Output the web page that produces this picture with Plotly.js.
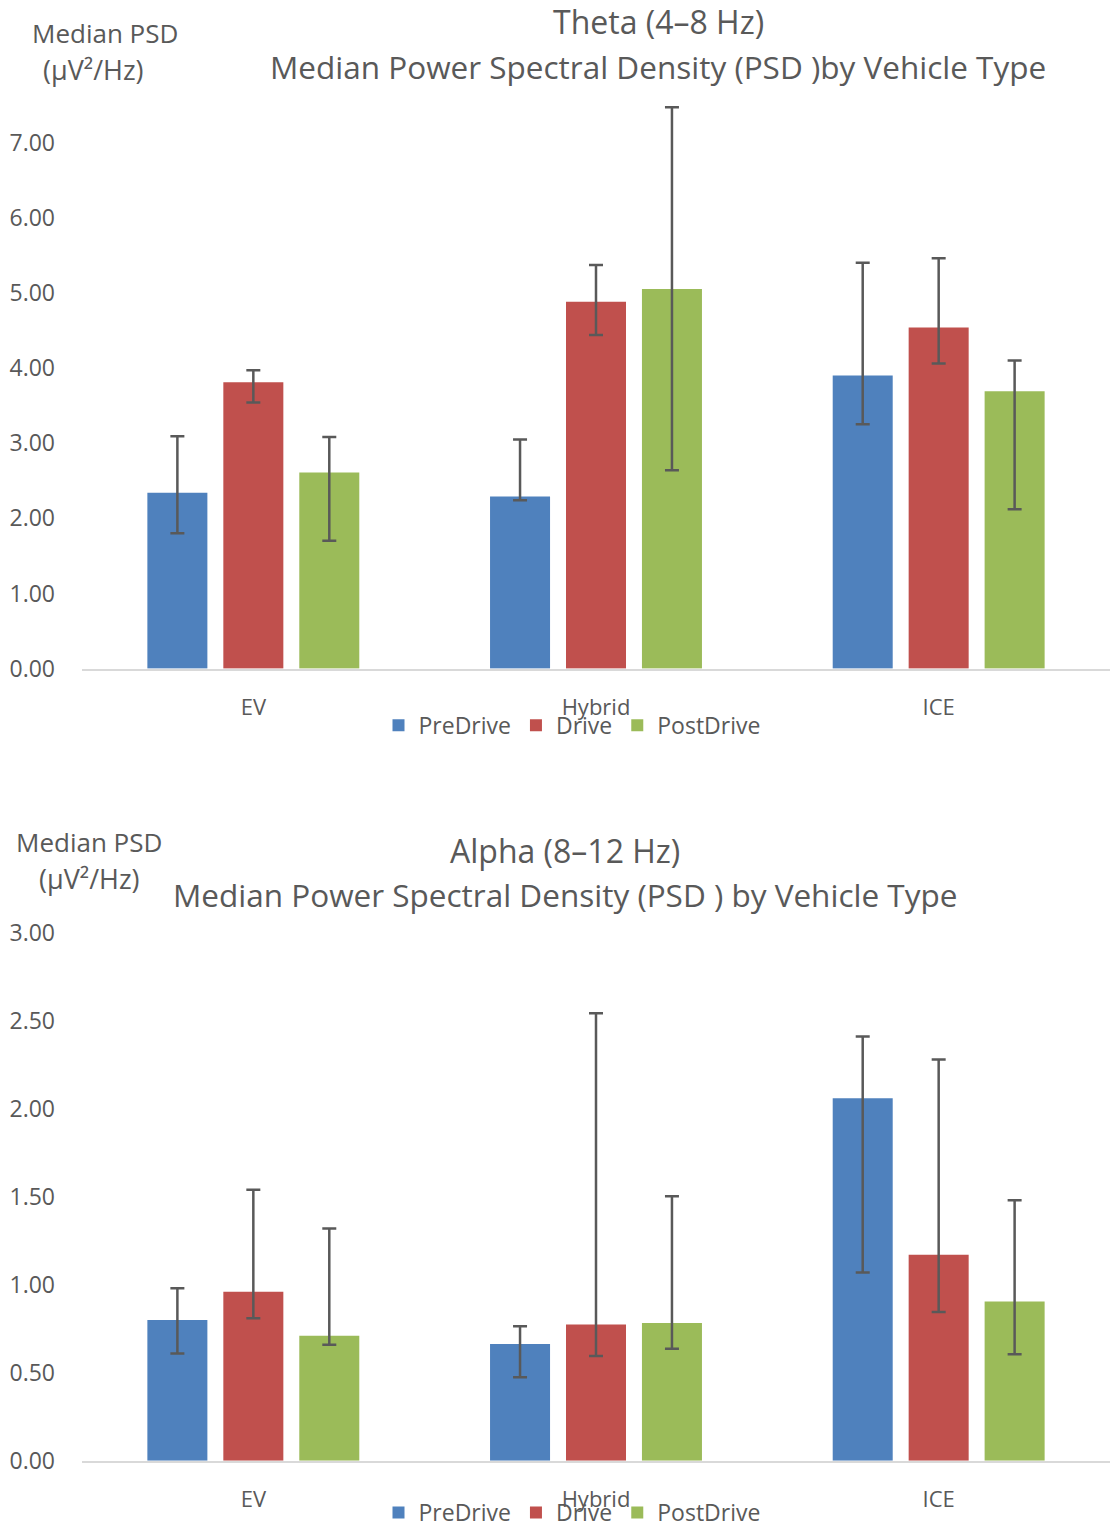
<!DOCTYPE html>
<html>
<head>
<meta charset="utf-8">
<script src="https://cdn.plot.ly/plotly-3.0.1.min.js"></script>
<style>
html,body{margin:0;padding:0;background:#fff;}
#chart{width:1120px;height:1534px;}
</style>
</head>
<body>
<div id="chart"></div>
<script>
// ---- Data ----
const categories = ["EV", "Hybrid", "ICE"];
const seriesNames = ["PreDrive", "Drive", "PostDrive"];

// Theta (4–8 Hz)
const thetaPre      = [2.34, 2.29, 3.90];
const thetaPreHi    = [3.09, 3.05, 5.40];
const thetaPreLo    = [1.80, 2.24, 3.25];
const thetaDrive    = [3.81, 4.88, 4.54];
const thetaDriveHi  = [3.97, 5.37, 5.46];
const thetaDriveLo  = [3.54, 4.44, 4.06];
const thetaPost     = [2.61, 5.05, 3.69];
const thetaPostHi   = [3.08, 7.47, 4.10];
const thetaPostLo   = [1.70, 2.64, 2.12];

// Alpha (8–12 Hz)
const alphaPre      = [0.80, 0.664, 2.06];
const alphaPreHi    = [0.98, 0.764, 2.41];
const alphaPreLo    = [0.61, 0.475, 1.07];
const alphaDrive    = [0.96, 0.774, 1.17];
const alphaDriveHi  = [1.54, 2.543, 2.28];
const alphaDriveLo  = [0.81, 0.596, 0.845];
const alphaPost     = [0.71, 0.783, 0.905];
const alphaPostHi   = [1.32, 1.503, 1.48];
const alphaPostLo   = [0.66, 0.636, 0.605];

const thetaTicks = [0, 1, 2, 3, 4, 5, 6, 7];
const alphaTicks = [0, 0.5, 1, 1.5, 2, 2.5, 3];

// ---- Styles ----
const colors = ["#4F81BD", "#C0504D", "#9BBB59"];
const FONT = "'Open Sans', sans-serif";
const TXT = "#595959";

function mkTrace(name, vals, hi, lo, idx, xa, ya, leg, show) {
  return {
    type: "bar", name: name, x: categories, y: vals,
    xaxis: xa, yaxis: ya, legend: leg, showlegend: show,
    marker: {color: colors[idx], line: {width: 0}},
    error_y: {
      type: "data", symmetric: false,
      array: vals.map((v, i) => hi[i] - v),
      arrayminus: vals.map((v, i) => v - lo[i]),
      color: "#595959", thickness: 2.5, width: 7
    },
    hoverinfo: "x+y+name"
  };
}

const data = [
  mkTrace(seriesNames[0], thetaPre, thetaPreHi, thetaPreLo, 0, "x", "y", "legend", true),
  mkTrace(seriesNames[1], thetaDrive, thetaDriveHi, thetaDriveLo, 1, "x", "y", "legend", true),
  mkTrace(seriesNames[2], thetaPost, thetaPostHi, thetaPostLo, 2, "x", "y", "legend", true),
  mkTrace(seriesNames[0], alphaPre, alphaPreHi, alphaPreLo, 0, "x2", "y2", "legend2", true),
  mkTrace(seriesNames[1], alphaDrive, alphaDriveHi, alphaDriveLo, 1, "x2", "y2", "legend2", true),
  mkTrace(seriesNames[2], alphaPost, alphaPostHi, alphaPostLo, 2, "x2", "y2", "legend2", true)
];

const W = 1120, H = 1534;
const px = v => v / W;
const py = v => 1 - (v * 1.003) / H;

const xCommon = {
  type: "category", range: [-0.5, 2.5],
  domain: [px(82), px(1110)],
  showgrid: false, zeroline: false,
  showline: true, linecolor: "#D9D9D9", linewidth: 2,
  ticks: "", ticklabelstandoff: 18,
  tickfont: {family: FONT, size: 22, color: TXT},
  fixedrange: true
};
const yCommon = {
  showgrid: false, zeroline: false, showline: false,
  ticks: "", tickformat: ".2f", ticklabelstandoff: 26,
  tickfont: {family: FONT, size: 23, color: TXT},
  fixedrange: true
};

function ann(text, x, y, size) {
  return {text: text, x: px(x), y: py(y), xref: "paper", yref: "paper",
    xanchor: "center", yanchor: "middle", showarrow: false,
    font: {family: FONT, size: size, color: TXT}};
}

const legFont = {family: FONT, size: 23, color: TXT};

const layout = {
  width: W, height: H,
  margin: {l: 0, r: 0, t: 0, b: 0},
  paper_bgcolor: "#fff", plot_bgcolor: "#fff",
  barmode: "group", bargap: 0.335, bargroupgap: 0.21,
  font: {family: FONT, color: TXT},
  xaxis: Object.assign({}, xCommon, {anchor: "y"}),
  yaxis: Object.assign({}, yCommon, {anchor: "x", domain: [py(671), py(671 - 7.5 * 75.43)],
    range: [0, 7.5], tickvals: thetaTicks}),
  xaxis2: Object.assign({}, xCommon, {anchor: "y2"}),
  yaxis2: Object.assign({}, yCommon, {anchor: "x2", domain: [py(1466), py(936)],
    range: [0, 3], tickvals: alphaTicks}),
  legend: {orientation: "h", x: px(572), y: py(728), xanchor: "center", yanchor: "middle",
    font: legFont, itemwidth: 30, tracegroupgap: 0, bgcolor: "rgba(0,0,0,0)"},
  legend2: {orientation: "h", x: px(572), y: py(1518), xanchor: "center", yanchor: "middle",
    font: legFont, itemwidth: 30, tracegroupgap: 0, bgcolor: "rgba(0,0,0,0)"},
  annotations: [
    ann("Theta (4–8 Hz)", 658, 22, 32),
    ann("Median Power Spectral Density (PSD )by Vehicle Type", 658, 67, 31.5),
    ann("Median PSD", 105, 33, 26),
    ann("(µV²/Hz)", 94, 70, 27),
    ann("Alpha (8–12 Hz)", 565, 854, 32),
    ann("Median Power Spectral Density (PSD ) by Vehicle Type", 565, 898, 31.5),
    ann("Median PSD", 89, 845, 26),
    ann("(µV²/Hz)", 89, 882, 27)
  ]
};

Plotly.newPlot("chart", data, layout, {displayModeBar: false, staticPlot: true});
</script>
</body>
</html>
